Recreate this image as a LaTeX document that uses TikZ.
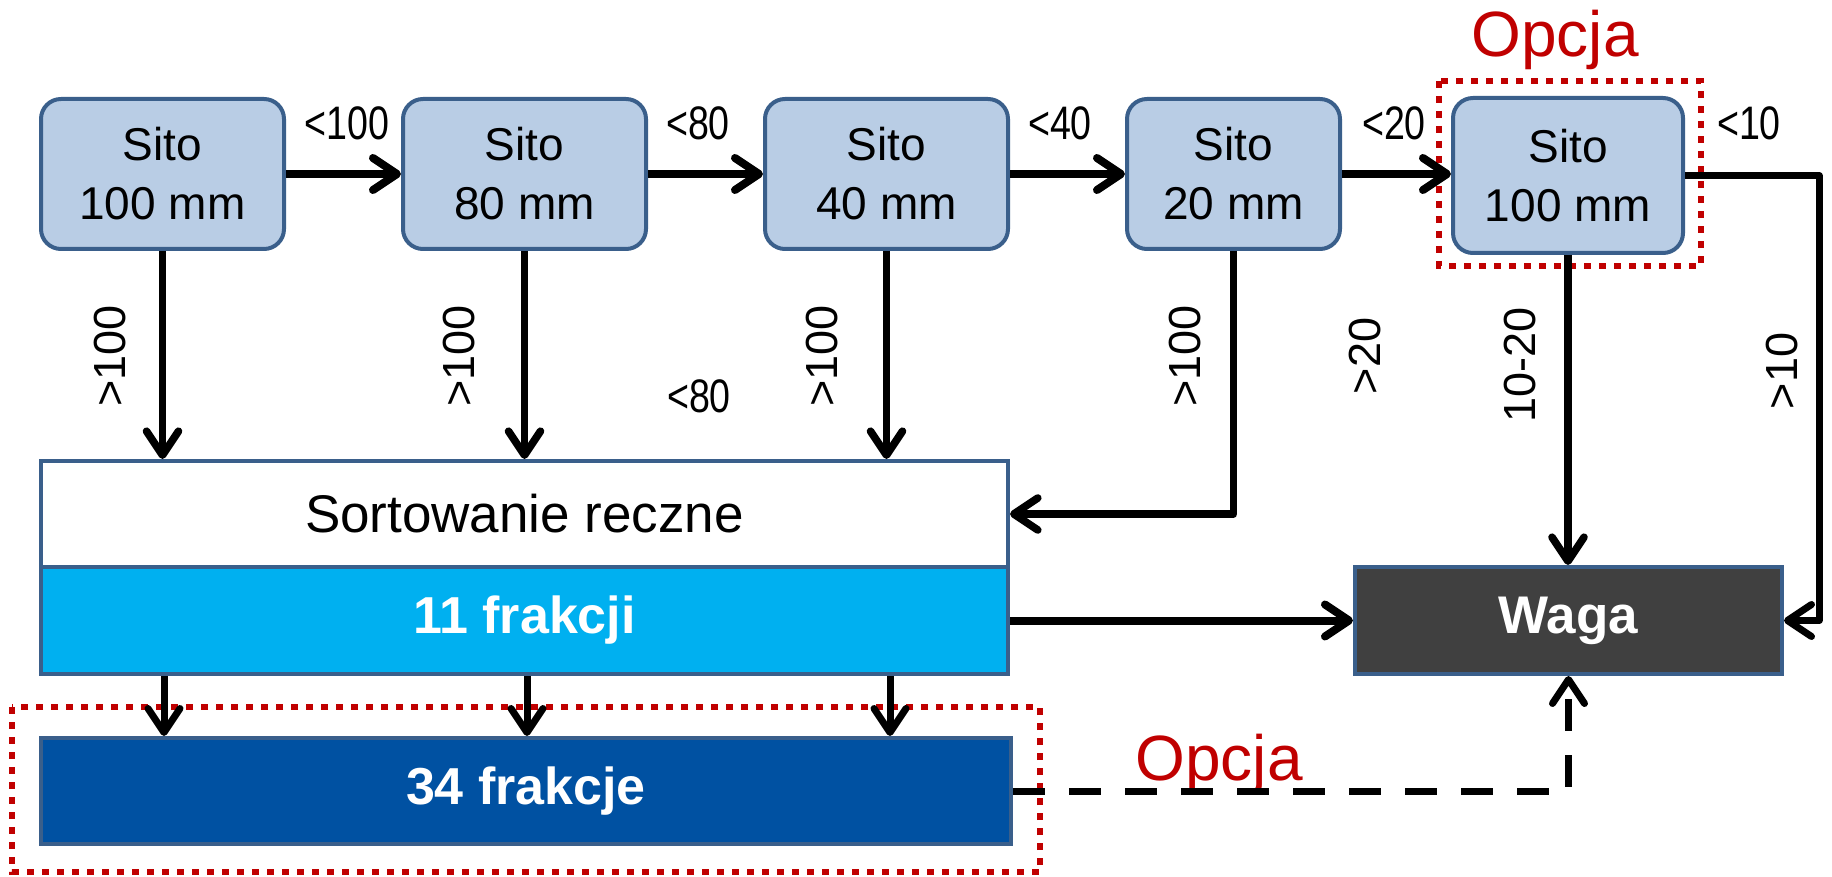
\documentclass[tikz,border=0pt]{standalone}
\usepackage{fontspec}
\usepackage{graphicx}
\setmainfont{Liberation Sans}
\usetikzlibrary{arrows.meta}
\definecolor{sitofill}{HTML}{B9CDE5}
\definecolor{boxborder}{HTML}{3A5F8B}
\definecolor{cyanfill}{HTML}{00B0F0}
\definecolor{darkblue}{HTML}{0051A2}
\definecolor{wagafill}{HTML}{404040}
\definecolor{optred}{HTML}{C00000}
\begin{document}
\begin{tikzpicture}[x=0.5pt,y=-0.5pt,
  sito/.style={draw=boxborder, line width=2pt, fill=sitofill, rounded corners=10pt,
    minimum height=75pt, inner sep=0pt, align=center,
    font=\fontsize{23}{29.5}\selectfont},
  flatbox/.style={draw=boxborder, line width=2pt, minimum width=483.5pt,
    minimum height=53pt, inner sep=0pt},
  boldtxt/.style={text=white, font=\fontsize{26}{30}\selectfont\bfseries},
  lbl/.style={anchor=base, inner sep=0pt, font=\fontsize{23.5}{28}\selectfont},
  vlbl/.style={rotate=90, inner sep=0pt, font=\fontsize{22.5}{26}\selectfont},
  opt/.style={text=optred, inner sep=0pt, anchor=base, font=\fontsize{32}{36}\selectfont},
  optbox/.style={draw=optred, line width=3pt, dash pattern=on 3.5pt off 4pt},
  arr/.style={draw=black, line width=4pt, line join=round,
    -{Straight Barb[length=12pt, width=16pt, line cap=round, line join=round]}},
  arrthin/.style={arr, line width=3.8pt},
  arrsmall/.style={arr, line width=3.5pt},
  dashline/.style={arr, line width=3.5pt, dash pattern=on 16pt off 12pt}
]
\useasboundingbox (0,0) rectangle (1832,877);

% sieve boxes
\node[sito, minimum width=121.5pt] (s1) at (162.5,174) {Sito\\100 mm};
\node[sito, minimum width=121.5pt] (s2) at (524.5,174) {Sito\\80 mm};
\node[sito, minimum width=121.5pt] (s3) at (886.5,174) {Sito\\40 mm};
\node[sito, minimum width=106.5pt] (s4) at (1233.5,174) {Sito\\20 mm};
\node[sito, minimum width=115pt, minimum height=77.5pt] (s5) at (1568,175.5) {Sito\\100 mm};

% lower boxes
\node[flatbox, fill=white, font=\fontsize{26.5}{30}\selectfont] (sort) at (524.5,514) {Sortowanie reczne};
\node[flatbox, fill=cyanfill, minimum height=53.5pt, boldtxt] (f11) at (524.5,620.5) {11 frakcji};
\node[flatbox, fill=darkblue, minimum width=485pt, boldtxt] (f34) at (526,791) {34 frakcje};
\node[flatbox, fill=wagafill, minimum width=213.5pt, minimum height=53.5pt, boldtxt,
  font=\fontsize{26.5}{30}\selectfont\bfseries] (waga) at (1568.5,620.5) {Waga};

% option frames
\draw[optbox] (1439,81) rectangle (1701,266);
\draw[optbox] (12,707) rectangle (1040,872);
\node[opt] (o1) at (1555,57) {Opcja};
\node[opt] (o2) at (1219,780) {Opcja};

% horizontal labels
\node[lbl] (t1) at (347,140) {\scalebox{0.8}[1]{<100}};
\node[lbl] (t2) at (698,140) {\scalebox{0.8}[1]{<80}};
\node[lbl] (t3) at (1060,140) {\scalebox{0.8}[1]{<40}};
\node[lbl] (t4) at (1394,140) {\scalebox{0.8}[1]{<20}};
\node[lbl] (t5) at (1749,140) {\scalebox{0.8}[1]{<10}};
\node[lbl] (t6) at (699,413) {\scalebox{0.8}[1]{<80}};

% vertical labels
\node[vlbl] (v1) at (110.5,356) {>100};
\node[vlbl] (v2) at (459.5,356) {>100};
\node[vlbl] (v3) at (822,356) {>100};
\node[vlbl] (v4) at (1184.5,356) {>100};
\node[vlbl] (v5) at (1365,356) {>20};
\node[vlbl] (v6) at (1519.5,365) {10-20};
\node[vlbl] (v7) at (1782,371) {>10};

% helper coordinates
\coordinate (rc) at (1819,400);
\coordinate (d1) at (164,0);
\coordinate (d2) at (527,0);
\coordinate (d3) at (890,0);

% chain of sieves
\draw[arr] (s1.east) -- (s2.west);
\draw[arr] (s2.east) -- (s3.west);
\draw[arr] (s3.east) -- (s4.west);
\draw[arr] (s4.east) -- (s4.east -| s5.west);
\draw[arr, line width=3.5pt] (s5.east) -| (rc) |- (waga.east);

% down to sorting
\draw[arrthin] (s1.south) -- (s1.south |- sort.north);
\draw[arrthin] (s2.south) -- (s2.south |- sort.north);
\draw[arrthin] (s3.south) -- (s3.south |- sort.north);
\draw[arrthin] (s4.south) |- (sort.east);
\draw[arrthin] (s5.south) -- (s5.south |- waga.north);

% to scale
\draw[arr] (f11.east) -- (waga.west);

% to 34 fractions
\draw[arrsmall] (f11.south -| d1) -- (f34.north -| d1);
\draw[arrsmall] (f11.south -| d2) -- (f34.north -| d2);
\draw[arrsmall] (f11.south -| d3) -- (f34.north -| d3);

% optional dashed path
\draw[dashline] (f34.east) -| (waga.south);
\end{tikzpicture}
\end{document}
